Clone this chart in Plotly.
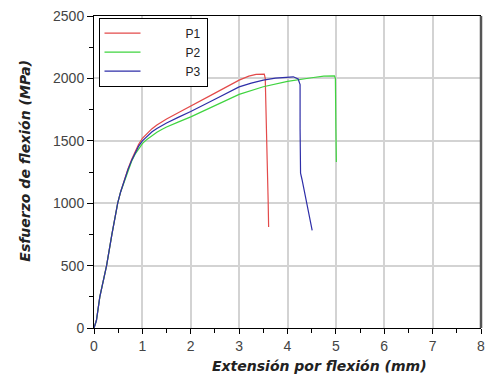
import plotly.graph_objects as go

# ---- data ----
p1_x = [0, 0.05, 0.12, 0.26, 0.37, 0.49, 0.55, 0.60, 0.64, 0.70, 0.78, 0.85, 0.92, 1.0, 1.1, 1.2, 1.3, 1.4, 1.5, 1.75, 2.0, 2.5, 3.0, 3.2, 3.35, 3.5, 3.52, 3.54, 3.55, 3.58, 3.60, 3.61]
p1_y = [0, 60, 250, 500, 750, 1000, 1090, 1152, 1195, 1272, 1352, 1415, 1470, 1520, 1562, 1597, 1627, 1652, 1675, 1727, 1777, 1882, 1986, 2018, 2032, 2038, 2035, 2000, 1770, 1340, 1020, 810]

p2_x = [0, 0.05, 0.12, 0.26, 0.37, 0.49, 0.55, 0.60, 0.64, 0.70, 0.78, 0.85, 0.92, 1.0, 1.1, 1.2, 1.3, 1.4, 1.5, 1.75, 2.0, 2.5, 3.0, 3.5, 4.0, 4.5, 4.75, 4.97, 4.99, 5.0, 5.01]
p2_y = [0, 60, 250, 500, 750, 1000, 1090, 1148, 1188, 1262, 1338, 1393, 1438, 1478, 1513, 1543, 1568, 1590, 1610, 1652, 1692, 1782, 1872, 1933, 1976, 2005, 2018, 2020, 2000, 1600, 1330]

p3_x = [0, 0.05, 0.12, 0.26, 0.37, 0.49, 0.55, 0.60, 0.64, 0.70, 0.78, 0.85, 0.92, 1.0, 1.1, 1.2, 1.3, 1.4, 1.5, 1.75, 2.0, 2.5, 3.0, 3.25, 3.5, 3.75, 4.0, 4.12, 4.22, 4.26, 4.26, 4.27, 4.30, 4.37, 4.44, 4.51]
p3_y = [0, 60, 250, 500, 750, 1000, 1090, 1150, 1192, 1267, 1345, 1403, 1455, 1500, 1540, 1572, 1599, 1622, 1643, 1690, 1735, 1833, 1932, 1962, 1986, 2002, 2012, 2013, 1995, 1950, 1600, 1240, 1190, 1050, 940, 783]

series_names = ["P1", "P2", "P3"]
series_colors = ["#e34a4a", "#3fd43f", "#2e2ea8"]

x_ticks = [0, 1, 2, 3, 4, 5, 6, 7, 8]
y_ticks = [0, 500, 1000, 1500, 2000, 2500]

x_title = "Extensión por flexión (mm)"
y_title = "Esfuerzo de flexión (MPa)"

fig = go.Figure()
pad = "\u00a0" * 12
for xs, ys, name, col in zip([p1_x, p2_x, p3_x], [p1_y, p2_y, p3_y], series_names, series_colors):
    fig.add_trace(go.Scatter(x=xs, y=ys, mode="lines", name=pad + name,
                             line=dict(color=col, width=1.2)))

fig.update_layout(
    width=487, height=380,
    margin=dict(l=94, r=6, t=16, b=52),
    paper_bgcolor="white", plot_bgcolor="white",
    font=dict(family="Liberation Sans, Arial, sans-serif", size=13, color="#333333"),
    showlegend=True,
    legend=dict(x=(98.5 - 94) / 387, y=0.995, xanchor="left", yanchor="top",
                bordercolor="black", borderwidth=1, bgcolor="white",
                font=dict(size=12, color="#222222"), itemwidth=36,
                tracegroupgap=0),
)
fig.update_xaxes(range=[0, 8], tickvals=x_ticks, ticktext=[str(v) for v in x_ticks],
                 automargin=False,
                 showgrid=True, gridcolor="#d3d3d3", gridwidth=1.5,
                 showline=True, linecolor="black", linewidth=1, mirror=True,
                 ticks="outside", ticklen=5, tickcolor="black",
                 minor=dict(dtick=0.5, ticks="outside", ticklen=4, tickcolor="black", showgrid=False),
                 zeroline=False, tickfont=dict(size=14, color="#444444"))
fig.update_yaxes(range=[0, 2500], tickvals=y_ticks, ticktext=[str(v) for v in y_ticks],
                 automargin=False,
                 showgrid=True, gridcolor="#d3d3d3", gridwidth=1.5,
                 showline=True, linecolor="black", linewidth=1,
                 ticks="outside", ticklen=6, tickcolor="black",
                 minor=dict(dtick=250, ticks="outside", ticklen=4, tickcolor="black", showgrid=False),
                 zeroline=False, tickfont=dict(size=14, color="#444444"))

# right frame line (thicker, dark grey)
fig.add_shape(type="line", xref="paper", yref="paper", x0=1, x1=1, y0=0, y1=1,
              line=dict(color="#555555", width=2.5))

title_font = dict(family="DejaVu Sans, Verdana, sans-serif", size=14, color="#222222")
fig.add_annotation(text="<b><i>" + x_title + "</i></b>", xref="paper", yref="paper",
                   x=(319 - 94) / 387, y=-38 / 311.7, xanchor="center", yanchor="middle",
                   showarrow=False, font=title_font)
fig.add_annotation(text="<b><i>" + y_title + "</i></b>", xref="paper", yref="paper",
                   x=(25 - 94) / 387, y=1 - (160.5 - 16) / 311.7, xanchor="center", yanchor="middle",
                   textangle=-90, showarrow=False, font=title_font)

fig.write_html("out.html", config={"displayModeBar": False},
               post_script="document.body.style.margin='0px';document.body.style.overflow='hidden';")
